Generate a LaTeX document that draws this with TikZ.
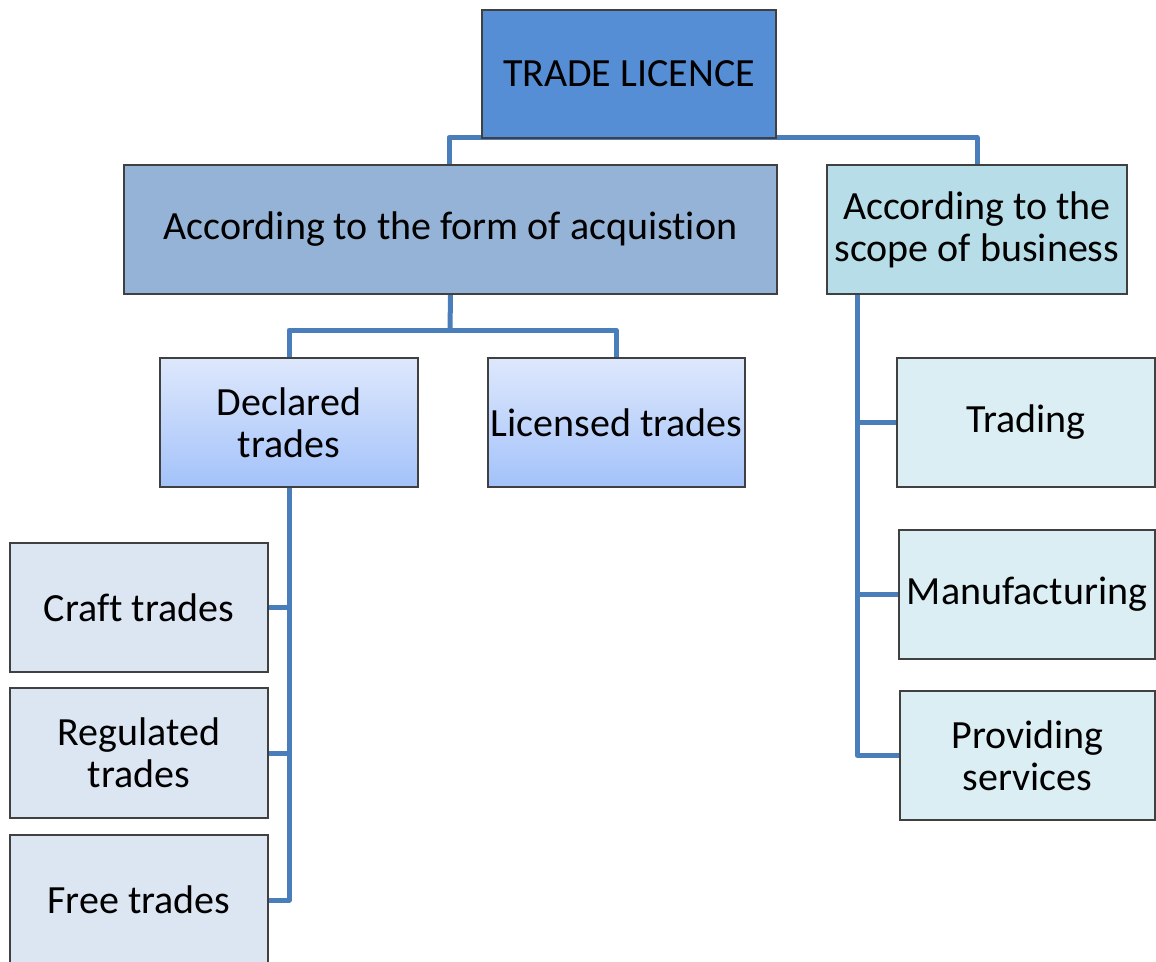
\documentclass[tikz,border=0pt]{standalone}
\usepackage{fontspec}
\setmainfont{Carlito}[Ligatures=NoCommon]
\usetikzlibrary{backgrounds}
\definecolor{cTop}{HTML}{558ED5}
\definecolor{cForm}{HTML}{95B3D7}
\definecolor{cScope}{HTML}{B7DEE8}
\definecolor{cGradT}{HTML}{DEE8FC}
\definecolor{cGradB}{HTML}{A3C2FA}
\definecolor{cLeft}{HTML}{DCE6F2}
\definecolor{cRight}{HTML}{DBEEF4}
\definecolor{cLine}{HTML}{4A7EBB}
\definecolor{cBorder}{HTML}{404040}
\begin{document}
\begin{tikzpicture}[x=1pt,y=-1pt,
  box/.style={draw=cBorder, line width=1.2pt, align=center, inner sep=0pt,
    font=\fontsize{40}{42}\selectfont, text=black},
  conn/.style={draw=cLine, line width=5pt, line join=round, line cap=round}]
\useasboundingbox (0,0) rectangle (1156,961);
\node[box, fill=cTop, minimum width=294pt, minimum height=128pt] (tl) at (629,74) {TRADE LICENCE};
\node[box, fill=cForm, minimum width=653pt, minimum height=129pt] (form) at (450.5,229.5) {According to the form of acquistion};
\node[box, fill=cScope, minimum width=300pt, minimum height=129pt] (scope) at (977,229.5) {According to the\\scope of business};
\node[box, top color=cGradT, bottom color=cGradB, minimum width=258pt, minimum height=129pt] (decl) at (289,422.5) {Declared\\trades};
\node[box, top color=cGradT, bottom color=cGradB, minimum width=257pt, minimum height=129pt] (lic) at (616.5,422.5) {Licensed trades};
\node[box, fill=cLeft, minimum width=258pt, minimum height=129pt] (craft) at (139,607.5) {Craft trades};
\node[box, fill=cLeft, minimum width=258pt, minimum height=130pt] (reg) at (139,753) {Regulated\\trades};
\node[box, fill=cLeft, minimum width=258pt, minimum height=130pt] (free) at (139,900) {Free trades};
\node[box, fill=cRight, minimum width=258pt, minimum height=129pt] (trad) at (1026,422.5) {Trading};
\node[box, fill=cRight, minimum width=256pt, minimum height=129pt] (manu) at (1027,594.5) {Manufacturing};
\node[box, fill=cRight, minimum width=255pt, minimum height=129pt] (prov) at (1027.5,755.5) {Providing\\services};
\coordinate (j1) at (450,330);
\coordinate (sp) at ([xshift=31pt]scope.south west);
\begin{scope}[on background layer]
\draw[conn] ([xshift=-1.5pt]form.north) |- ([yshift=1pt]tl.south) -| (scope.north);
\draw[conn] (form.south) -- (j1);
\draw[conn] (decl.north) |- (j1) -| ([xshift=-0.5pt]lic.north);
\draw[conn] (decl.south) |- (free.east);
\draw[conn] (craft.east) -- (craft.east -| decl.south);
\draw[conn] (reg.east) -- (reg.east -| decl.south);
\draw[conn] (sp) |- (prov.west);
\draw[conn] (trad.west) -- (trad.west -| sp);
\draw[conn] (manu.west) -- (manu.west -| sp);
\end{scope}
\end{tikzpicture}
\end{document}
